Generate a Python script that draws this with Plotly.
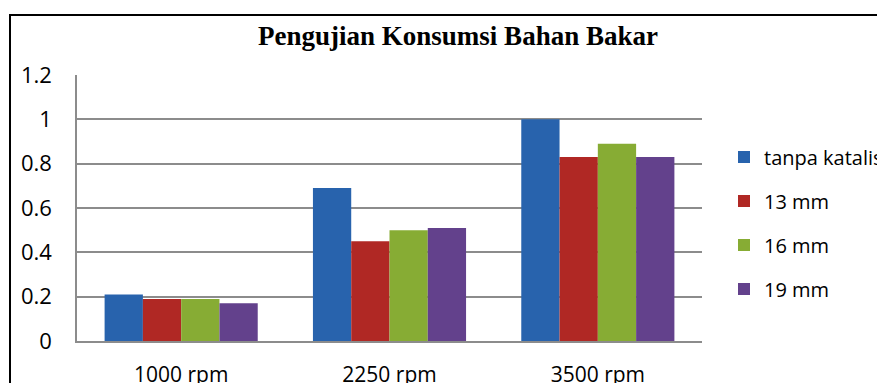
import plotly.graph_objects as go

categories = ["1000 rpm", "2250 rpm", "3500 rpm"]
series_names = ["tanpa katalis", "13 mm", "16 mm", "19 mm"]
tanpa_katalis = [0.21, 0.69, 1.00]
mm_13 = [0.19, 0.45, 0.83]
mm_16 = [0.19, 0.50, 0.89]
mm_19 = [0.17, 0.51, 0.83]
series_values = [tanpa_katalis, mm_13, mm_16, mm_19]
colors = ["#2863AD", "#B02824", "#87AC34", "#63418C"]
y_tick_vals = [0, 0.2, 0.4, 0.6, 0.8, 1.0, 1.2]
y_tick_text = ["0", "0.2", "0.4", "0.6", "0.8", "1", "1.2"]

W, H = 877, 383
L, R, T, B = 77, 702, 75, 341

fig = go.Figure()
for i, (name, vals, col) in enumerate(zip(series_names, series_values, colors)):
    fig.add_trace(go.Bar(
        x=categories, y=vals, name=name, marker_color=col,
        marker_line_width=0, legendgroup=f"g{i}",
    ))

def px_x(p):
    return (p - L) / (R - L)

def px_y(p):
    return (B - p) / (B - T)

font_fam = "Open Sans, Lato, sans-serif"
fig.update_layout(
    width=W, height=H,
    margin=dict(l=L, r=W - R, t=T, b=H - B, pad=0, autoexpand=False),
    paper_bgcolor="white", plot_bgcolor="white",
    barmode="group", bargap=0.265, bargroupgap=0,
    title=dict(text="<b>Pengujian Konsumsi Bahan Bakar</b>",
               x=px_x(458), xref="paper", xanchor="center",
               y=1 - 36 / H, yref="container", yanchor="middle",
               font=dict(family="Liberation Serif, Times New Roman, serif", size=27, color="black")),
    legend=dict(x=px_x(724), xanchor="left", y=px_y(223), yanchor="middle",
                traceorder="grouped", tracegroupgap=15,
                font=dict(family=font_fam, size=20, color="black"),
                bgcolor="rgba(0,0,0,0)"),
    showlegend=True,
    font=dict(family=font_fam, color="black"),
)
fig.update_xaxes(showgrid=False, showline=True, linecolor="#8C8C8C", linewidth=1.5,
                 ticks="", tickfont=dict(family=font_fam, size=21, color="black"),
                 ticklabelstandoff=14)
fig.update_yaxes(range=[0, 1.2], tickvals=y_tick_vals, ticktext=y_tick_text,
                 showgrid=True, gridcolor="#8C8C8C", gridwidth=1.5,
                 showline=True, linecolor="#8C8C8C", linewidth=1.5,
                 zeroline=False, ticks="",
                 tickfont=dict(family=font_fam, size=22, color="black"),
                 ticklabelstandoff=19)

# outer chart border
fig.add_shape(type="rect", xref="paper", yref="paper",
              x0=px_x(10), x1=px_x(W + 20), y0=px_y(H + 20), y1=px_y(15),
              line=dict(color="black", width=2), fillcolor="rgba(0,0,0,0)", layer="above")

fig.write_html("out.html")
